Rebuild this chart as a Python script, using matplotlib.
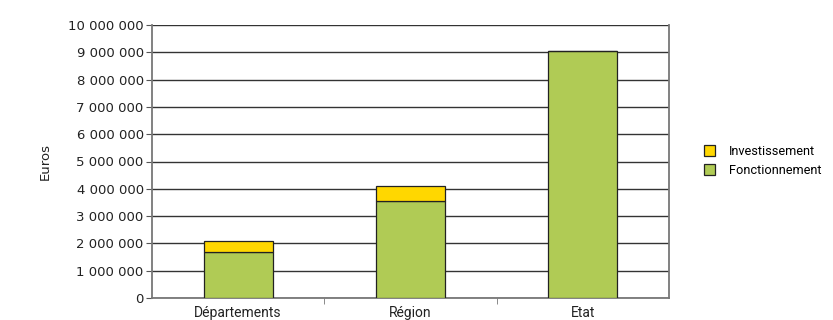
import matplotlib
matplotlib.use("Agg")
import matplotlib.pyplot as plt
from matplotlib.patches import Patch
from matplotlib.ticker import FuncFormatter, FixedLocator
from matplotlib import font_manager

categories = ["Départements", "Région", "Etat"]
fonctionnement = [1700000, 3550000, 9060000]
investissement = [380000, 540000, 0]
yticks = list(range(0, 10000001, 1000000))

names = {f.name for f in font_manager.fontManager.ttflist}
narrow = ["Liberation Sans Narrow", "DejaVu Sans"] if "Liberation Sans Narrow" in names else ["Roboto", "DejaVu Sans"]

fig = plt.figure(figsize=(8.33, 3.2), dpi=100)
ax = fig.add_axes([152/833, 22/320, (669-152)/833, (298-25)/320])

x = range(len(categories))
green = "#b0cb55"
yellow = "#ffd700"
ax.bar(x, fonctionnement, width=0.4, color=green, edgecolor="#222222", linewidth=0.9, zorder=3)
ax.bar(x, investissement, width=0.4, bottom=fonctionnement, color=yellow,
       edgecolor="#222222", linewidth=0.9, zorder=3)

ax.set_xlim(-0.5, 2.5)
ax.set_ylim(0, 10000000)
ax.set_yticks(yticks)
ax.yaxis.set_major_formatter(FuncFormatter(lambda v, p: f"{int(v):,}".replace(",", " ")))
ax.grid(axis="y", color="#333333", linewidth=1.0, zorder=0)
ax.set_axisbelow(True)

ax.set_xticks([0, 1, 2])
ax.set_xticklabels(categories, fontsize=10, color="#222222", family=narrow)
ax.tick_params(axis="x", length=0, pad=6)
ax.xaxis.set_minor_locator(FixedLocator([0.5, 1.5]))
ax.tick_params(axis="x", which="minor", length=4, color="#777777", direction="out")
ax.tick_params(axis="y", length=4, color="#555555", labelsize=9.5, labelcolor="#222222", pad=2)

for s in ["left", "bottom", "right"]:
    ax.spines[s].set_color("#777777")
    ax.spines[s].set_linewidth(1.3)
ax.spines["top"].set_visible(False)

ax.set_ylabel("Euros", fontsize=9.5, color="#222222", labelpad=12)

handles = [Patch(facecolor=yellow, edgecolor="#222222", linewidth=0.9, label="Investissement"),
           Patch(facecolor=green, edgecolor="#222222", linewidth=0.9, label="Fonctionnement")]
fig.legend(handles=handles, loc="center left", bbox_to_anchor=(692/833, 1-161/320),
           frameon=False, prop={"family": narrow, "size": 9.2}, handlelength=0.9, handleheight=0.9,
           handletextpad=1.1, labelspacing=0.45)

fig.savefig("out.png", dpi=100)
